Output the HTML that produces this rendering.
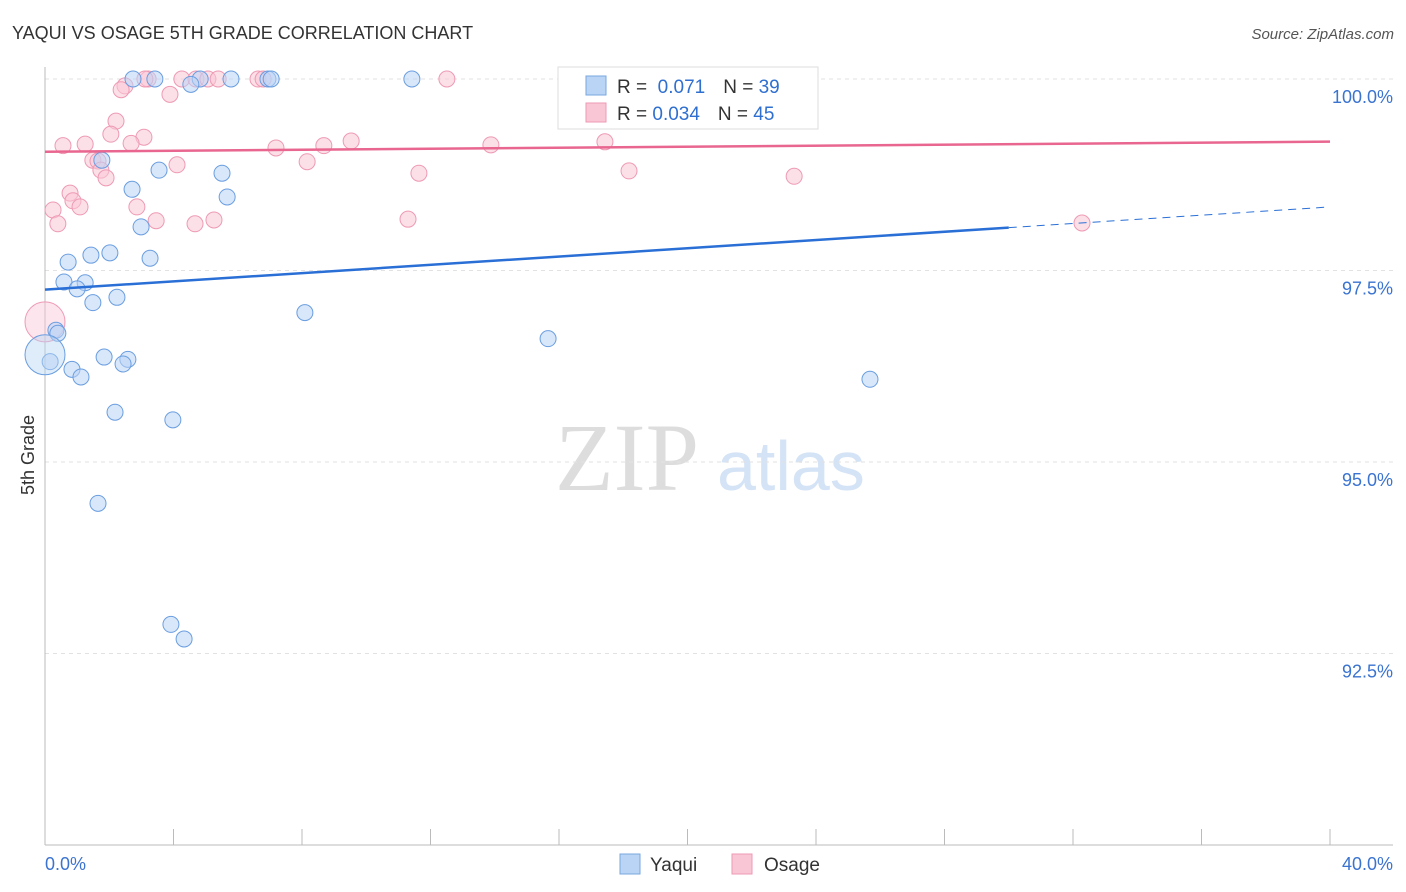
<!DOCTYPE html>
<html><head><meta charset="utf-8"><style>
body{margin:0;background:#fff;font-family:"Liberation Sans",sans-serif;}
svg{display:block}
</style></head><body>
<svg width="1406" height="892" id="chart">
<text x="12" y="39" font-size="18" fill="#333">YAQUI VS OSAGE 5TH GRADE CORRELATION CHART</text>
<text x="1394" y="39" font-size="15" fill="#555" text-anchor="end" font-style="italic">Source: ZipAtlas.com</text>
<text x="555" y="490" font-size="96" fill="#ddd" font-family="Liberation Serif,serif">ZIP</text>
<text x="717" y="490" font-size="70" fill="#d4e3f5">atlas</text>
<text transform="translate(34,455) rotate(-90)" font-size="18" fill="#333" text-anchor="middle">5th Grade</text>
<g id="grid"></g><g id="axes"></g><g id="marks"></g>
<g>
<rect x="558" y="67" width="260" height="62" fill="#fff" stroke="#ddd"/>
<rect x="586" y="76" width="20" height="19" fill="#b9d4f5" stroke="#7aa7e0"/>
<rect x="586" y="103" width="20" height="19" fill="#f9c6d6" stroke="#ee9ab4"/>
<text x="617" y="93" font-size="19" fill="#333">R = <tspan fill="#2f6fd0">&#160;0.071</tspan><tspan dx="18">N = </tspan><tspan fill="#2f6fd0">39</tspan></text>
<text x="617" y="120" font-size="19" fill="#333">R = <tspan fill="#2f6fd0">0.034</tspan><tspan dx="18">N = </tspan><tspan fill="#2f6fd0">45</tspan></text>
</g>
<g>
<rect x="620" y="854" width="20" height="20" fill="#b9d4f5" stroke="#7aa7e0"/>
<text x="650" y="871" font-size="19" fill="#333">Yaqui</text>
<rect x="732" y="854" width="20" height="20" fill="#f9c6d6" stroke="#ee9ab4"/>
<text x="764" y="871" font-size="19" fill="#333">Osage</text>
</g>
</svg>
<script>
const yTicks=[100,97.5,95,92.5];
const yTickLabels=["100.0%","97.5%","95.0%","92.5%"];
const xTicks=[0,4,8,12,16,20,24,28,32,36,40];
const blueX=[2.74,3.42,4.83,5.79,6.94,7.04,11.42,4.54,1.77,3.55,5.51,2.71,5.67,2.99,2.02,1.43,3.27,0.72,0.59,1.25,1.00,2.24,1.49,8.09,0.34,0.40,15.66,1.84,2.58,2.43,0.16,0.84,1.12,25.68,2.18,3.98,1.65,3.92,4.33,0];
const blueY=[100,100,100,100,100,100,100,99.93,98.94,98.81,98.77,98.56,98.46,98.07,97.73,97.70,97.66,97.61,97.35,97.34,97.26,97.15,97.08,96.95,96.72,96.68,96.61,96.37,96.34,96.28,96.31,96.21,96.11,96.08,95.65,95.55,94.46,92.88,92.69,96.40];
const pinkX=[2.49,2.37,3.21,3.11,4.26,4.70,5.07,5.39,6.63,6.79,12.51,22.72,3.89,2.21,2.05,3.08,0.56,1.25,2.68,1.49,1.65,4.11,1.74,1.90,7.19,8.68,9.53,13.88,17.43,8.16,11.64,18.18,23.32,0.78,0.87,1.09,2.86,0.25,0.40,3.46,4.67,5.26,11.30,32.28,0];
const pinkY=[99.91,99.86,100,100,100,100,100,100,100,100,100,100,99.80,99.45,99.28,99.24,99.13,99.15,99.16,98.94,98.93,98.88,98.81,98.71,99.10,99.13,99.19,99.14,99.18,98.92,98.77,98.80,98.73,98.51,98.41,98.33,98.33,98.29,98.11,98.15,98.11,98.16,98.17,98.12,96.83];
const blueTrend=[97.25,0.0270];
const pinkTrend=[99.05,0.0033];
const X=v=>45+v/40*1285, Y=v=>79+(100-v)/2.5*191.5;
const NS="http://www.w3.org/2000/svg";
function mk(p,t,a){const e=document.createElementNS(NS,t);for(const k in a)e.setAttribute(k,a[k]);p.appendChild(e);return e;}
const grid=document.getElementById('grid'),axes=document.getElementById('axes'),marks=document.getElementById('marks');
yTicks.forEach((v,i)=>{
 const l=mk(grid,'line',{x1:45,x2:1393,y1:Y(v),y2:Y(v),stroke:'#e2e2e2','stroke-dasharray':'4,4'});
 
 
 const t=mk(axes,'text',{x:1393,y:Y(v)+24,'font-size':18,fill:'#3a73d0','text-anchor':'end'});
 t.textContent=yTickLabels[i];
 
 
});
mk(axes,'line',{x1:45,x2:45,y1:67,y2:845,stroke:'#bbb'});
mk(axes,'line',{x1:45,x2:1393,y1:845,y2:845,stroke:'#bbb'});
xTicks.forEach(v=>{const l=mk(axes,'line',{x1:X(v),x2:X(v),y1:829,y2:845,stroke:'#bbb'});
 
 });
let t0=mk(axes,'text',{x:45,y:870,'font-size':18,fill:'#3a73d0'});t0.textContent='0.0%';


let t1=mk(axes,'text',{x:1393,y:870,'font-size':18,fill:'#3a73d0','text-anchor':'end'});t1.textContent='40.0%';


function pts(xs,ys,fill,stroke,name){xs.forEach((x,i)=>{const big=(x===0);
 const c=mk(marks,'circle',{cx:X(x),cy:Y(ys[i]),r:big?20:8,fill:fill,'fill-opacity':big?0.45:0.55,stroke:stroke,'stroke-width':1});
 
 });}
pts(pinkX,pinkY,'#f9c6d6','#ee9ab4','osage-point');
pts(blueX,blueY,'#b9d4f5','#6a9ee0','yaqui-point');
const bl=mk(marks,'line',{x1:X(0),y1:Y(blueTrend[0]),x2:X(30),y2:Y(blueTrend[0]+blueTrend[1]*30),stroke:'#2a6fd6','stroke-width':2.5});


const bd=mk(marks,'line',{x1:X(30),y1:Y(blueTrend[0]+blueTrend[1]*30),x2:X(40),y2:Y(blueTrend[0]+blueTrend[1]*40),stroke:'#2a6fd6','stroke-width':1,'stroke-dasharray':'8,6'});


const pl=mk(marks,'line',{x1:X(0),y1:Y(pinkTrend[0]),x2:X(40),y2:Y(pinkTrend[0]+pinkTrend[1]*40),stroke:'#e8668f','stroke-width':2.5});


</script>
</body></html>
